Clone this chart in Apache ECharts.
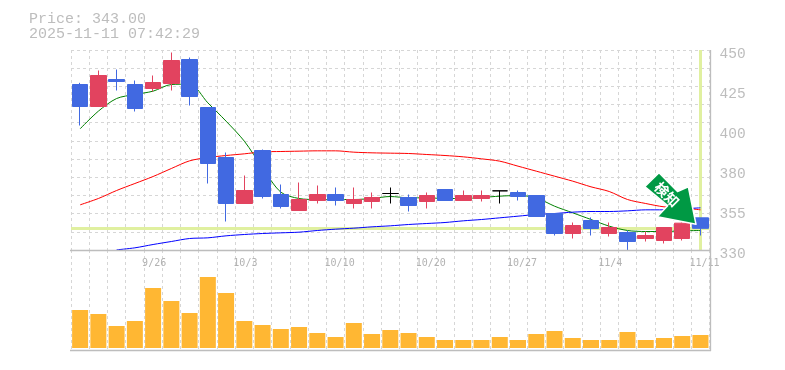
<!DOCTYPE html>
<html><head><meta charset="utf-8">
<style>html,body{margin:0;padding:0;background:#fff}#c{width:785px;height:370px}</style>
<script src="https://cdn.jsdelivr.net/npm/echarts@6/dist/echarts.min.js"></script>
</head><body><div id="c"></div>
<script>
const dates = ['9/19','9/22','9/24','9/25','9/26','9/29','9/30','10/1','10/2','10/3','10/6','10/7','10/8','10/9','10/10','10/14','10/15','10/16','10/17','10/20','10/21','10/22','10/23','10/24','10/27','10/28','10/29','10/30','10/31','11/4','11/5','11/6','11/7','11/10','11/11'];
const opens  = [429.3,416.1,432.3,429.3,426.9,429.9,444.3,415.5,385.5,357.9,389.7,363.3,353.7,359.7,363.3,357.9,359.1,363.9,361.5,359.1,366.3,359.7,360.9,365.5,364.5,362.7,351.9,339.9,347.7,339.9,340.5,336.9,335.7,336.9,349.3];
const closes = [416.1,434.7,431.1,414.9,430.5,443.7,422.1,381.9,357.9,365.7,362.1,356.1,360.3,363.3,359.7,360.3,361.5,363.9,356.7,362.7,359.7,362.7,362.7,365.5,362.1,350.1,339.9,344.7,342.9,343.5,335.1,338.7,343.5,346.1,343.0];
const lows   = [404.7,416.1,425.7,413.1,425.1,425.7,416.7,369.9,347.1,357.9,360.9,354.9,353.7,357.9,356.7,354.9,354.9,357.9,353.1,354.9,359.7,359.7,359.1,357.9,359.7,350.1,338.7,336.9,338.7,338.1,329.7,335.1,333.9,335.7,338.7];
const highs  = [430.3,437.7,438.3,431.7,434.7,448.5,445.5,415.5,388.5,374.7,390.3,369.3,370.5,368.7,367.5,367.5,364.5,367.5,363.3,364.5,366.3,365.7,365.7,365.5,365.7,362.7,351.9,346.5,349.5,346.5,341.7,341.0,343.5,346.5,349.3];
const maShort = [402.7,413.3,420.9,423.3,425.3,429.3,429.5,418.3,407.3,395.3,379.3,364.7,360.9,360.3,360.3,360.3,360.9,362.1,361.3,361.3,360.9,360.9,361.5,362.3,362.7,361.3,356.3,352.3,348.3,344.3,341.7,341.1,341.1,341.5,341.7];
const maMid   = [357.1,360.9,365.7,369.9,374.1,378.9,383.5,385.5,386.7,387.7,388.9,389.1,389.3,389.5,389.5,388.7,388.3,388.1,387.9,387.3,386.7,385.9,384.7,383.3,380.3,377.3,374.3,371.3,367.9,365.1,360.3,357.9,355.9,355.3,354.1];
const maLong  = [null,null,330.1,331.3,333.3,335.1,336.9,337.3,338.5,339.3,339.9,340.3,340.7,341.7,342.5,343.1,343.9,344.5,345.3,345.9,346.5,347.5,348.3,349.3,350.3,351.3,351.9,352.7,353.1,353.1,353.5,354.1,354.1,354.7,355.3];
const volumes = [38,34,22,27,60,47,35,71,55,27,23,19,21,15,11,25,14,18,15,11,8,8,8,11,8,14,17,10,8,8,16,8,10,12,13];
const priceTickLabels = ['330','355','380','400','425','450'];
const bandPrice = 342.9;
const lastDate = '11/11';
const titleLines = ['Price: 343.00','2025-11-11 07:42:29'];
const arrowLabel = '検知';

const GREY='#bdbdbd', GRID='#d6d6d6', BAND='#e0f0a0';
const gridLine={show:true,lineStyle:{color:GRID,width:1,type:[3,3]}};
const chart=echarts.init(document.getElementById('c'),null,{renderer:'canvas'});
const a=Math.PI/4;
const hiddenX={axisLine:{show:false},axisTick:{show:false},axisLabel:{show:false}};
chart.setOption({
  animation:false,
  backgroundColor:'#fff',
  title:{left:29,top:12,padding:0,text:titleLines.join('\n'),textStyle:{fontFamily:'Liberation Mono',fontSize:15,fontWeight:'normal',color:GREY,lineHeight:15}},
  grid:[{left:71,top:50,width:638.6,height:200},{left:71,top:250,width:638.6,height:100},{left:71,top:54,width:638.6,height:200}],
  xAxis:[
    {type:'category',gridIndex:0,data:dates,boundaryGap:true,axisLine:{show:false},axisTick:{show:false},splitLine:Object.assign({interval:0},gridLine),
     axisLabel:{show:true,interval:(i)=>i%5===4,margin:8,align:'left',padding:[0,0,0,-11],fontFamily:'DejaVu Sans Mono',fontSize:10,color:'#b2b2b2',hideOverlap:false}},
    Object.assign({type:'category',gridIndex:1,data:dates,boundaryGap:true,splitLine:Object.assign({interval:0},gridLine)},hiddenX),
    Object.assign({type:'category',gridIndex:2,data:dates,splitLine:{show:false}},hiddenX)
  ],
  yAxis:[
    {type:'value',gridIndex:0,min:330,max:450,axisLine:{show:false},axisTick:{show:false},axisLabel:{show:false},splitLine:{show:false}},
    {type:'value',gridIndex:2,min:0,max:5,interval:1,position:'right',axisLine:{show:false},axisTick:{show:false},splitLine:{show:false},
     axisLabel:{show:true,margin:10,fontFamily:'Liberation Mono',fontSize:14.5,color:GREY,formatter:(v)=>priceTickLabels[v],showMinLabel:true,showMaxLabel:true}},
    {type:'value',gridIndex:0,min:0,max:11,interval:1,axisLine:{show:false},axisTick:{show:false},axisLabel:{show:false},splitLine:gridLine},
    {type:'value',gridIndex:1,min:-2,max:98,axisLine:{show:false},axisTick:{show:false},axisLabel:{show:false},splitLine:{show:false}}
  ],
  series:[
    {type:'line',xAxisIndex:0,yAxisIndex:0,data:[],z:1,silent:true,
     markLine:{z:1,silent:true,symbol:'none',label:{show:false},lineStyle:{color:BAND,width:3,type:'solid'},
       data:[{yAxis:bandPrice},{xAxis:lastDate}]}},
    {type:'line',xAxisIndex:0,yAxisIndex:0,z:2,data:maShort,smooth:0.3,symbol:'none',lineStyle:{color:'#008000',width:1}},
    {type:'line',xAxisIndex:0,yAxisIndex:0,z:2,data:maMid,smooth:0.3,symbol:'none',lineStyle:{color:'#ff0000',width:1}},
    {type:'line',xAxisIndex:0,yAxisIndex:0,z:2,data:maLong,smooth:0.3,symbol:'none',lineStyle:{color:'#0000ff',width:1}},
    {type:'candlestick',xAxisIndex:0,yAxisIndex:0,z:3,barWidth:16,
     data:dates.map((_,i)=>[opens[i],closes[i],lows[i],highs[i]]),
     itemStyle:{color:'#e2435f',borderColor:'#e2435f',color0:'#4169e1',borderColor0:'#4169e1',borderColorDoji:'#000000',borderWidth:1}},
    {type:'bar',xAxisIndex:1,yAxisIndex:3,data:volumes,barWidth:16,itemStyle:{color:'#ffb733'}}
  ],
  graphic:[
    {type:'line',z:50,shape:{x1:70,y1:250.5,x2:711,y2:250.5},style:{stroke:GREY,lineWidth:1.3}},
    {type:'line',z:50,shape:{x1:70,y1:350.5,x2:711,y2:350.5},style:{stroke:GREY,lineWidth:1.5}},
    {type:'line',z:50,shape:{x1:710.5,y1:50,x2:710.5,y2:351},style:{stroke:GREY,lineWidth:1.3}},
    {type:'polygon',z:60,shape:{points:[[644.7,186.7],[659,172.7],[677.5,191.5],[688.3,186.7],[696,224.3],[657.3,216.7],[667.7,205.7]]},style:{fill:'#009944',stroke:'#ffffff',lineWidth:1.5,lineJoin:'round'}},
    {type:'text',z:61,x:667,y:194.5,rotation:-a,style:{text:arrowLabel,fill:'#ffffff',font:'bold 14px "Noto Sans CJK JP"',align:'center',verticalAlign:'middle'}}
  ]
});
</script></body></html>
